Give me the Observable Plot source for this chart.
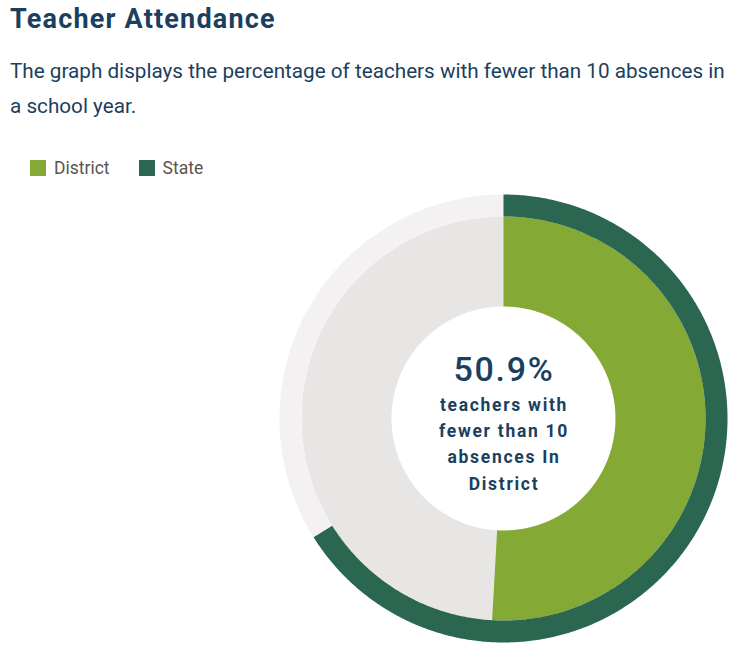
<!DOCTYPE html>
<html>
<head>
<meta charset="utf-8">
<script src="https://cdn.jsdelivr.net/npm/d3@7"></script>
<script src="https://cdn.jsdelivr.net/npm/@observablehq/plot@0.6"></script>
<style>
  html, body { margin: 0; padding: 0; background: #fff; }
  body { width: 756px; height: 669px; position: relative; overflow: hidden; font-family: Roboto, sans-serif; }
  #title { position: absolute; left: 10px; top: 2px; font-weight: 700; font-size: 27px; line-height: 34px; letter-spacing: 1.2px; color: #1b3f5e; white-space: nowrap; }
  #subtitle { position: absolute; left: 10px; top: 54px; font-size: 20.7px; line-height: 35px; color: #1b3f5e; white-space: nowrap; }
  #legend { position: absolute; left: 30px; top: 158px; display: flex; align-items: center; font-size: 17.5px; color: #5b5350; line-height: 20px; }
  .sw { display: inline-flex; align-items: center; margin-right: 29px; }
  .sw i { display: inline-block; width: 16px; height: 16px; margin-right: 8px; }
  #chart { position: absolute; left: 0; top: 190px; }
  #chart svg text { letter-spacing: 1.7px; }
  #chart svg text.big { letter-spacing: 2.2px; }
</style>
</head>
<body>
<div id="title"></div>
<div id="subtitle"></div>
<div id="legend"></div>
<div id="chart"></div>
<script>
// ---- data ----
const titleText = "Teacher Attendance";
const subtitleLines = [
  "The graph displays the percentage of teachers with fewer than 10 absences in",
  "a school year."
];
const series = ["District", "State"];
const percents = [50.9, 66.1];
const seriesColors = ["#84a934", "#2a6650"];
const trackColors = ["#e8e6e5", "#f3f1f2"];
const centerCaption = ["teachers with", "fewer than 10", "absences In", "District"];

// ---- layout constants (not data) ----
const R_INNER = 0.5, R_MID = 0.902, R_OUTER = 1;
const ringBands = [[R_INNER, R_MID], [R_MID, R_OUTER]]; // District inner ring, State outer ring

document.getElementById("title").textContent = titleText;
document.getElementById("subtitle").innerHTML = subtitleLines.join("<br>");
const legend = document.getElementById("legend");
series.forEach((s, i) => {
  const span = document.createElement("span");
  span.className = "sw";
  span.innerHTML = `<i style="background:${seriesColors[i]}"></i>${s}`;
  legend.appendChild(span);
});

// sample an annular sector (fractions of a full turn, clockwise from 12 o'clock)
function sector(f0, f1, r0, r1) {
  const n = Math.max(2, Math.ceil((f1 - f0) * 720));
  return d3.range(n + 1).map(i => {
    const t = (f0 + (f1 - f0) * i / n) * 2 * Math.PI;
    return {x1: r1 * Math.sin(t), y1: r1 * Math.cos(t), x2: r0 * Math.sin(t), y2: r0 * Math.cos(t)};
  });
}

const marks = [];
series.forEach((s, i) => {
  const [r0, r1] = ringBands[i];
  marks.push(Plot.area(sector(0, 1, r0, r1), {x1: "x1", y1: "y1", x2: "x2", y2: "y2", fill: trackColors[i]}));
});
series.forEach((s, i) => {
  const [r0, r1] = ringBands[i];
  marks.push(Plot.area(sector(0, percents[i] / 100, r0, r1), {x1: "x1", y1: "y1", x2: "x2", y2: "y2", fill: seriesColors[i]}));
});
marks.push(Plot.text([`${percents[0]}%`], {
  x: 0, y: 0, text: d => d, dy: -38.5, lineAnchor: "bottom", textAnchor: "middle",
  fontSize: 34, fontWeight: 500, fill: "#1b3f5e", className: "big"
}));
marks.push(Plot.text([centerCaption.join("\n")], {
  x: 0, y: 0, text: d => d, dy: 70.5, lineAnchor: "bottom", textAnchor: "middle",
  fontSize: 17.5, fontWeight: 700, lineHeight: 1.49, fill: "#1b3f5e"
}));

const cx = 503.5, cy = 228.5, R = 224;
const plot = Plot.plot({
  width: 756,
  height: 479,
  margin: 0,
  style: {fontFamily: "Roboto, sans-serif", background: "white", overflow: "visible"},
  x: {domain: [-1, 1], range: [cx - R, cx + R], axis: null},
  y: {domain: [-1, 1], range: [cy + R, cy - R], axis: null},
  marks
});
document.getElementById("chart").appendChild(plot);
</script>
</body>
</html>
